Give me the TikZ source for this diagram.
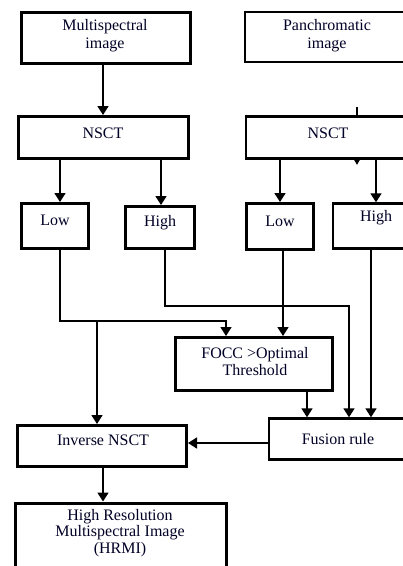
\documentclass[tikz,border=0pt]{standalone}
\usepackage{fontspec}
\setmainfont{Liberation Serif}
\usetikzlibrary{arrows.meta,calc}
\begin{document}
\begin{tikzpicture}[x=1pt,y=-1pt,
  box/.style={draw=black,line width=3pt,rectangle,inner sep=0pt},
  txt/.style={font=\fontsize{16}{17.5}\selectfont,align=center,inner sep=0pt,text=black!85!blue},
  arr/.style={line width=1.6pt,-{Triangle[length=9pt,width=11pt]}},
  con/.style={line width=1.6pt}]
\useasboundingbox (0,0) rectangle (403,566);
\clip (0,0) rectangle (403,566);
\fill[white] (0,0) rectangle (403,566);
% boxes
\node[box,minimum width=169pt,minimum height=51pt] (ms) at (106,38) {};
\node[box,line width=2.4pt,minimum width=164pt,minimum height=50pt] (pan) at (327,37) {};
\node[box,minimum width=170pt,minimum height=42pt] (nsl) at (103.5,137.5) {};
\node[box,line width=2.6pt,minimum width=163pt,minimum height=42pt] (nsr) at (327.5,137.5) {};
\node[box,minimum width=67pt,minimum height=45pt] (low1) at (55,226) {};
\node[box,minimum width=69pt,minimum height=42pt] (high1) at (160,227.5) {};
\node[box,minimum width=67pt,minimum height=46pt] (low2) at (280,226.5) {};
\node[box,line width=2.4pt,minimum width=86pt,minimum height=45pt] (high2) at (376,226) {};
\node[box,minimum width=157pt,minimum height=53pt] (focc) at (254,364) {};
\node[box,line width=2.4pt,minimum width=138pt,minimum height=41pt] (fus) at (338,439) {};
\node[box,minimum width=169pt,minimum height=41pt] (inv) at (102,446) {};
\node[box,minimum width=211pt,minimum height=90pt] (hrmi) at (121,548) {};
% texts
\node[txt] (mst) at (105,35.5) {Multispectral\\image};
\node[txt] (pant) at (327,35.5) {Panchromatic\\image};
\node[txt] (nslt) at (103,133) {NSCT};
\node[txt] (nsrt) at (328,133) {NSCT};
\node[txt] (low1t) at (55,220) {Low};
\node[txt] (high1t) at (160,223) {High};
\node[txt] (low2t) at (280,221) {Low};
\node[txt] (high2t) at (376,218) {High};
\node[txt] (focct) at (255,361.5) {FOCC >Optimal\\Threshold};
\node[txt] (fust) at (338,439) {Fusion rule};
\node[txt] (invt) at (103,440) {Inverse NSCT};
\node[txt,font=\fontsize{16}{16.5}\selectfont] (hrmit) at (120,533) {High Resolution\\Multispectral Image\\(HRMI)};
% connectors
\coordinate (j1) at (60,321);
\coordinate (j2) at (97,321);
\coordinate (j3) at (165,306);
\coordinate (s1) at (357,107);
\draw[arr] (ms.south -| 103,0) -- (nsl.north -| 103,0);
\draw[arr] (nsl.south -| 60,0) -- (low1.north -| 60,0);
\draw[arr] (nsl.south -| 161,0) -- (high1.north -| 161,0);
\draw[arr] (nsr.south -| 280,0) -- (low2.north -| 280,0);
\draw[arr] (nsr.south -| 376,0) -- (high2.north -| 376,0);
\draw[con] (s1) -- (s1 |- nsr.north);
\fill ($(nsr.south -| s1)+(-3.5,-1)$) -- ($(nsr.south -| s1)+(3.5,-1)$) -- ($(nsr.south -| s1)+(0,5)$) -- cycle;
\draw[arr] (low1.south -| j1) -- (j1) -- (j1 -| 226,0) -- (focc.north -| 226,0);
\draw[arr] (j2) -- (j2 |- inv.north);
\draw[arr] (high1.south -| j3) -- (j3) -- (j3 -| 349,0) -- (fus.north -| 349,0);
\draw[arr] (low2.south -| 283,0) -- (focc.north -| 283,0);
\draw[arr] (high2.south -| 371,0) -- (fus.north -| 371,0);
\draw[arr] (focc.south -| 307,0) -- (fus.north -| 307,0);
\draw[arr] ([yshift=-4pt]fus.west) -- ([yshift=-4pt]fus.west -| inv.east);
\draw[arr] (inv.south -| 103,0) -- (hrmi.north -| 103,0);
\end{tikzpicture}
\end{document}
